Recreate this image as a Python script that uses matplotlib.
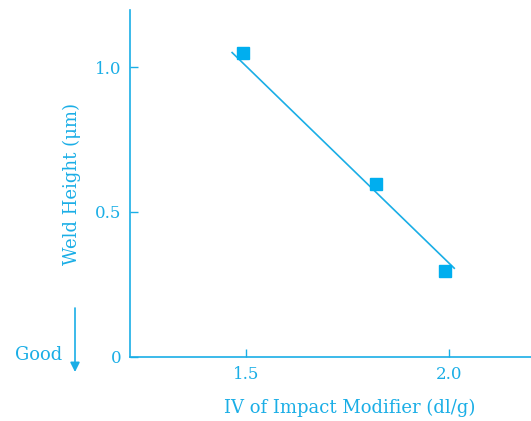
import matplotlib
matplotlib.use("Agg")
import matplotlib.pyplot as plt

# measured weld heights vs intrinsic viscosity of the impact modifier
iv = [1.493, 1.819, 1.990]
weld_height = [1.049, 0.597, 0.295]

# trend line end points
fit_x = [1.465, 2.012]
fit_y = [1.050, 0.305]

xticks = [1.5, 2.0]
xtick_labels = ["1.5", "2.0"]
yticks = [0, 0.5, 1.0]
ytick_labels = ["0", "0.5", "1.0"]

cyan = "#1AAEE6"
marker_cyan = "#00AEEF"

plt.rcParams["font.family"] = ["DejaVu Serif"]

fig = plt.figure(figsize=(5.31, 4.21), dpi=100)
ax = fig.add_axes([0.2448, 0.1532, 0.7552, 0.823])

ax.plot(fit_x, fit_y, color=cyan, lw=1.2)
ax.plot(iv, weld_height, ls="none", marker="s", ms=8, color=marker_cyan)

ax.set_xlim(1.2135, 2.201)
ax.set_ylim(0, 1.197)

ax.set_xticks(xticks)
ax.set_xticklabels(xtick_labels)
ax.set_yticks(yticks)
ax.set_yticklabels(ytick_labels)

for side in ["top", "right"]:
    ax.spines[side].set_visible(False)
for side in ["left", "bottom"]:
    ax.spines[side].set_color(cyan)
    ax.spines[side].set_linewidth(1.2)

ax.tick_params(direction="in", length=6, width=1, color=cyan,
               labelcolor=cyan, labelsize=12)
ax.tick_params(axis="x", pad=7)
ax.tick_params(axis="y", pad=6)

ax.set_xlabel("IV of Impact Modifier (dl/g)", color=cyan, fontsize=13)
ax.set_ylabel("Weld Height (\u03bcm)", color=cyan, fontsize=13)
ax.xaxis.set_label_coords((350 - 130) / 401, -(408 - 356.5) / 346.5)
ax.yaxis.set_label_coords(-(130 - 72) / 401, (356.5 - 184) / 346.5)
ax.xaxis.label.set_va("center")
ax.yaxis.label.set_va("center")

# "Good" marker with a downward arrow
fig.text(15 / 531, 1 - 355 / 421, "Good", color=cyan, fontsize=13,
         ha="left", va="center")
ax.annotate("", xy=(75 / 531, 1 - 372 / 421), xytext=(75 / 531, 1 - 308 / 421),
            xycoords="figure fraction", textcoords="figure fraction",
            arrowprops=dict(arrowstyle="-|>", color=cyan, lw=1.2,
                            mutation_scale=14, shrinkA=0, shrinkB=0))

fig.savefig("out.png", dpi=100)
